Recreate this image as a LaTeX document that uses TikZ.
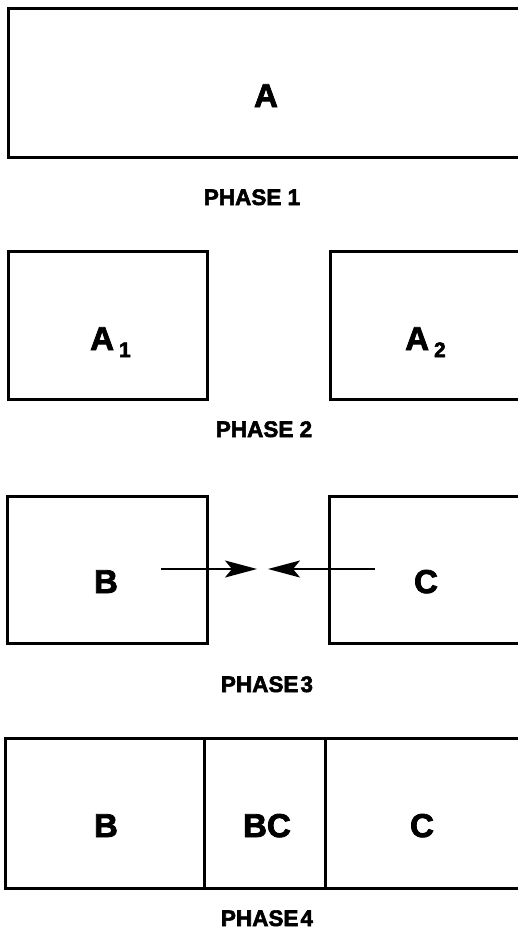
\documentclass[tikz,border=0pt]{standalone}
\usepackage{fontspec}
\setmainfont{Liberation Sans}
\newfontfamily\heavyfont{Liberation Sans Bold}[FakeBold=2.5]
\usetikzlibrary{arrows.meta}
\begin{document}
\begin{tikzpicture}[x=1pt,y=-1pt,
  box/.style={draw, line width=3pt, inner sep=0pt, outer sep=0pt, anchor=north west},
  letter/.style={font=\heavyfont\fontsize{33}{33}\selectfont, inner sep=0pt},
  caption/.style={font=\heavyfont\fontsize{22.5}{22.5}\selectfont, inner sep=0pt, anchor=base},
  push/.style={line width=1.8pt, -{Stealth[length=32pt,width=17pt,inset=7pt]}}]
\useasboundingbox (0,0) rectangle (518,930);
\clip (0,0) rectangle (518,930);

% Phase 1: the whole block A
\node[box, minimum width=516pt, minimum height=149pt] (boxA) at (8,8) {};
\node[letter, anchor=base] (lA) at (266,107) {A};
\node[caption] (cap1) at (252,205) {PHASE 1};

% Phase 2: split into A1 and A2
\node[box, minimum width=199pt, minimum height=148pt] (boxA1) at (8,251) {};
\node[box, minimum width=199pt, minimum height=148pt] (boxA2) at (330,251) {};
\node[letter, anchor=base west] (lA1) at (90,350) {A\hspace{5pt}\raisebox{-7pt}{\fontsize{21}{21}\selectfont 1}};
\node[letter, anchor=base west] (lA2) at (405,350) {A\hspace{5pt}\raisebox{-7pt}{\fontsize{21}{21}\selectfont 2}};
\node[caption] (cap2) at (264,437) {PHASE 2};

% Phase 3: B and C move towards each other
\node[box, minimum width=200pt, minimum height=147pt] (boxB) at (7,496) {};
\node[box, minimum width=200pt, minimum height=147pt] (boxC) at (329,496) {};
\node[letter, anchor=base] (lB) at (106,593) {B};
\node[letter, anchor=base] (lC) at (426,593) {C};
\coordinate (bTail) at (161,569);
\coordinate (bHead) at (257,569);
\coordinate (cTail) at (375,569);
\coordinate (cHead) at (268,569);
\draw[push] (bTail) -- (bHead);
\draw[push] (cTail) -- (cHead);
\node[caption] (cap3) at (267,692) {PHASE\kern2pt 3};

% Phase 4: B, BC and C joined
\node[box, minimum width=199pt, minimum height=150pt] (boxB4) at (5,738) {};
\node[box, minimum width=121pt, minimum height=150pt] (boxBC) at (204,738) {};
\node[box, minimum width=205pt, minimum height=150pt] (boxC4) at (325,738) {};
\node[letter, anchor=base] (lB4) at (106,837) {B};
\node[letter, anchor=base] (lBC) at (267,837) {BC};
\node[letter, anchor=base] (lC4) at (422,837) {C};
\node[caption] (cap4) at (267,926) {PHASE\kern2pt 4};
\end{tikzpicture}
\end{document}
